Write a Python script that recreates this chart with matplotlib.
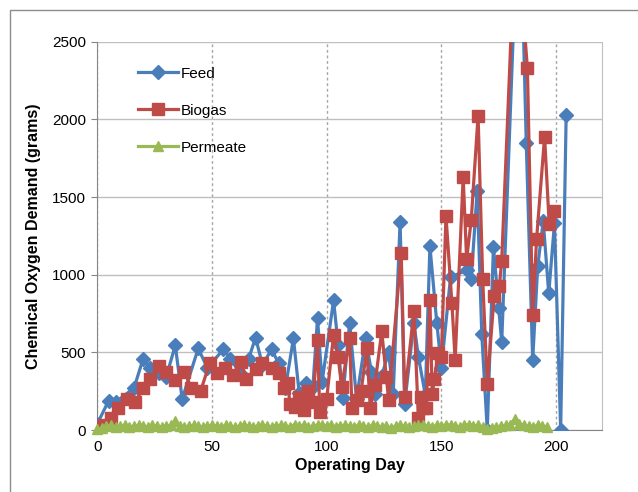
import matplotlib
matplotlib.use("Agg")
import matplotlib.pyplot as plt
from matplotlib.patches import Rectangle

plt.rcParams['font.family'] = ['Liberation Sans', 'DejaVu Sans']

# Feed COD (blue diamonds)
feed_days = [0, 5, 8, 16, 20, 23, 27, 30, 34, 37, 44, 48, 55, 58, 62, 66, 69, 72, 76, 79,
             82, 85.5, 88, 91, 94, 96, 98, 103, 105, 107, 110, 113, 117, 119.5, 121, 124,
             127, 129, 132, 134, 138, 140, 143, 145, 148, 150, 154, 161.3, 163, 165.6,
             167.6, 170, 172.7, 175, 176.3, 184, 187, 189.8, 192, 194.4, 196.8, 199.3,
             202, 204.4]
feed_cod = [40, 190, 180, 270, 460, 400, 370, 340, 545, 200, 525, 400, 520, 460, 370, 460,
            595, 420, 520, 430, 270, 590, 240, 300, 280, 720, 310, 835, 550, 205, 690, 200,
            590, 375, 230, 350, 500, 230, 1340, 170, 690, 470, 225, 1185, 690, 400, 985,
            1030, 970, 1540, 620, 0, 1180, 785, 565, 3600, 1850, 450, 1055, 1345, 880,
            1330, 0, 2030]

# Biogas COD (red squares)
biogas_days = [0, 3, 6, 9, 13, 16.5, 20, 23, 27, 30, 34, 38, 41, 45, 49, 52, 55.5, 59, 62.5,
               65, 69, 72, 76, 79, 81.5, 83, 84, 86, 88, 90, 92, 94, 96, 97, 100, 103, 105,
               106.5, 110, 111, 113, 115, 117.5, 119, 121, 124, 126, 127, 132.5, 134, 138,
               140, 141, 142, 143.4, 145, 146, 147, 148.5, 150, 152, 154.6, 156, 159.5, 161,
               163, 166, 168, 170, 173, 175.3, 176.3, 182.5, 187.5, 189.8, 191.5, 195, 197,
               199]
biogas_cod = [20, 30, 75, 140, 200, 180, 270, 330, 410, 375, 325, 375, 270, 250, 430, 365,
              400, 355, 440, 330, 390, 430, 400, 370, 270, 300, 170, 150, 210, 130, 250, 180,
              580, 115, 200, 615, 470, 280, 590, 140, 195, 250, 525, 140, 290, 635, 340, 195,
              1140, 215, 765, 75, 215, 140, 140, 835, 235, 330, 495, 470, 1380, 815, 450,
              1630, 1100, 1350, 2025, 975, 295, 860, 930, 1090, 3300, 2330, 740, 1230, 1890,
              1325, 1410]

# Permeate COD (green triangles)
permeate_days = [0, 2, 4, 6, 8, 10, 12, 14, 16, 18, 20, 22, 24, 26, 28, 30, 32, 34, 36, 38,
                 40, 42, 44, 46, 48, 50, 52, 54, 56, 58, 60, 62, 64, 66, 68, 70, 72, 74, 76,
                 78, 80, 82, 84, 86, 88, 90, 92, 94, 96, 98, 100, 102, 104, 106, 108, 110,
                 112, 114, 116, 118, 120, 122, 124, 126, 128, 130, 132, 134, 136, 138, 140,
                 142, 144, 146, 148, 150, 152, 154, 156, 158, 160, 162, 164, 166, 168, 170,
                 172, 174, 176, 178, 180, 182, 184, 186, 188, 190, 192, 194, 196]
permeate_cod = [5, 10, 25, 30, 20, 25, 30, 20, 25, 30, 25, 20, 30, 25, 20, 25, 30, 55, 25, 20,
                25, 30, 25, 20, 25, 30, 25, 20, 30, 25, 20, 25, 30, 25, 20, 25, 30, 25, 20,
                25, 30, 25, 20, 35, 25, 30, 20, 25, 30, 35, 25, 30, 20, 25, 30, 25, 20, 30,
                25, 20, 30, 25, 20, 25, 15, 25, 30, 25, 20, 25, 30, 35, 25, 20, 30, 25, 35,
                30, 25, 20, 30, 35, 25, 30, 20, 5, 10, 20, 25, 30, 35, 70, 40, 30, 25, 20, 30,
                25, 20]

fig = plt.figure(figsize=(6.38, 4.92), dpi=100)
ax = fig.add_axes([0.1525, 0.126, 0.791, 0.789])

ax.plot(feed_days, feed_cod, color='#4a7ebb', lw=2.3, marker='D', ms=7,
        label='Feed', zorder=4)
ax.plot(biogas_days, biogas_cod, color='#be4b48', lw=2.3, marker='s', ms=8.5,
        label='Biogas', zorder=5)
ax.plot(permeate_days, permeate_cod, color='#98b954', lw=2.3, marker='^', ms=6.5,
        label='Permeate', zorder=6, clip_on=False)

ax.set_xlim(0, 220)
ax.set_ylim(0, 2500)
ax.set_xticks([0, 50, 100, 150, 200])
ax.set_yticks([0, 500, 1000, 1500, 2000, 2500])
ax.tick_params(labelsize=11, length=4, color='#868686', pad=4)
ax.tick_params(axis='x', length=0, pad=7)

ax.yaxis.grid(True, color='#bfbfbf', lw=1)
ax.xaxis.grid(True, color='#a6a6a6', lw=1, ls=(0, (2, 2)))
ax.set_axisbelow(True)
ax.spines['top'].set_visible(False)
ax.spines['right'].set_color('#bfbfbf')
ax.spines['left'].set_color('#868686')
ax.spines['bottom'].set_color('#868686')

ax.set_xlabel('Operating Day', fontsize=11.5, fontweight='bold', labelpad=3)
ax.set_ylabel('Chemical Oxygen Demand (grams)', fontsize=11.5, fontweight='bold', labelpad=8)

ax.legend(loc='upper left', bbox_to_anchor=(0.205, 0.88), bbox_transform=fig.transFigure,
          frameon=False, fontsize=11, handlelength=2.6, labelspacing=1.5,
          handletextpad=0.2, borderpad=0)

fig.patches.append(Rectangle((10 / 638, -0.1), 1.2, 1 - 10 / 492 + 0.1,
                             transform=fig.transFigure, fill=False,
                             edgecolor='#8c8c8c', lw=1))

fig.savefig('out.png', dpi=100)
